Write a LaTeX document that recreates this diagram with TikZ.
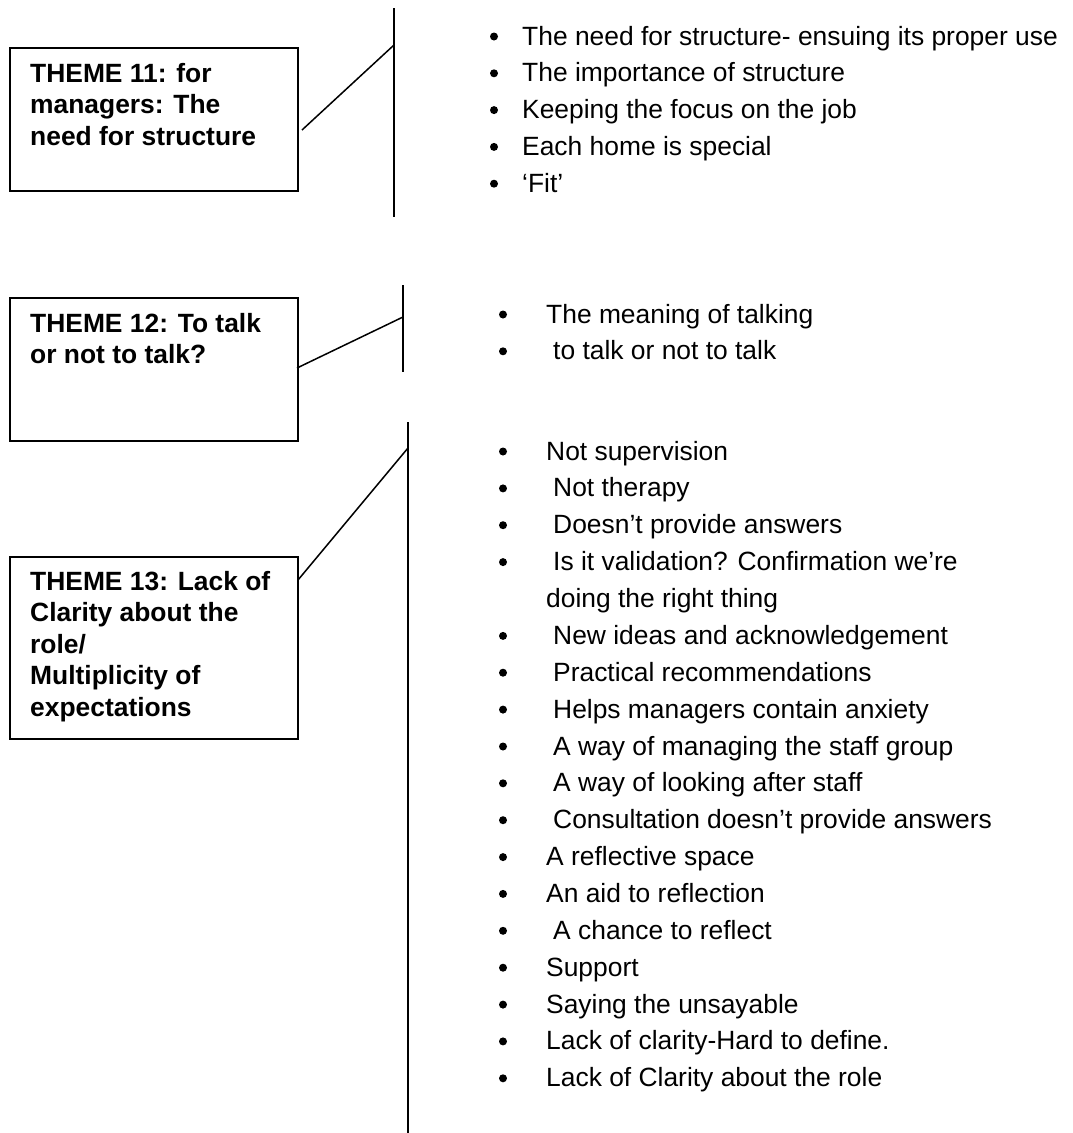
\documentclass[tikz,border=0pt]{standalone}
\usepackage{fontspec}
\setmainfont{Liberation Sans}
\begin{document}
\begin{tikzpicture}[x=1pt,y=-1pt,
  themebox/.style={draw, line width=1.5pt, minimum width=288pt, anchor=north west, inner sep=0pt},
  themetext/.style={anchor=base west, inner sep=0pt, font=\fontsize{26.4}{30.5}\selectfont\bfseries},
  item/.style={anchor=base west, inner sep=0pt, font=\fontsize{26.4}{30.5}\selectfont},
  dot/.style={circle, fill, inner sep=0pt, minimum size=8pt},
  rule/.style={line width=1.5pt}]
\useasboundingbox (0,0) rectangle (1072,1133);

% ---------- Theme 11 ----------
\node[themebox, minimum height=143pt] (box1) at (9,47) {};
\node[themetext] (t11a) at (30,82) {THEME 11: for};
\node[themetext] (t11b) at (30,113.5) {managers: The};
\node[themetext] (t11c) at (30,145) {need for structure};
\coordinate (v1top) at (394,8);
\coordinate (v1bot) at (394,217);
\coordinate (c1from) at (302,130);
\coordinate (c1to) at (394,45);
\draw[rule] (v1top) -- (v1bot);
\draw[rule] (c1from) -- (c1to);

\node[dot] (d11a) at (494,36.5) {};
\node[dot] (d11b) at (494,73.3) {};
\node[dot] (d11c) at (494,110.1) {};
\node[dot] (d11d) at (494,146.9) {};
\node[dot] (d11e) at (494,183.7) {};
\node[item] (i11a) at (522,45) {The need for structure- ensuing its proper use};
\node[item] (i11b) at (522,81.8) {The importance of structure};
\node[item] (i11c) at (522,118.6) {Keeping the focus on the job};
\node[item] (i11d) at (522,155.4) {Each home is special};
\node[item] (i11e) at (522,192.2) {‘Fit’};

% ---------- Theme 12 ----------
\node[themebox, minimum height=143pt] (box2) at (9,297) {};
\node[themetext] (t12a) at (30,332) {THEME 12: To talk};
\node[themetext] (t12b) at (30,363) {or not to talk?};
\coordinate (v2top) at (403,285);
\coordinate (v2bot) at (403,372);
\coordinate (c2from) at (297,368);
\coordinate (c2to) at (403,317);
\draw[rule] (v2top) -- (v2bot);
\draw[rule] (c2from) -- (c2to);

\node[dot] (d12a) at (503,314.5) {};
\node[dot] (d12b) at (503,351.3) {};
\node[item] (i12a) at (546,323) {The meaning of talking};
\node[item] (i12b) at (553,359.8) {to talk or not to talk};

% ---------- Theme 13 ----------
\node[themebox, minimum height=182pt] (box3) at (9,556) {};
\node[themetext] (t13a) at (30,590) {THEME 13: Lack of};
\node[themetext] (t13b) at (30,621.5) {Clarity about the};
\node[themetext] (t13c) at (30,653) {role/};
\node[themetext] (t13d) at (30,684.5) {Multiplicity of};
\node[themetext] (t13e) at (30,716) {expectations};
\coordinate (v3top) at (408,422);
\coordinate (v3bot) at (408,1133);
\coordinate (c3from) at (298,580);
\coordinate (c3to) at (408,448);
\draw[rule] (v3top) -- (v3bot);
\draw[rule] (c3from) -- (c3to);

\node[dot] (d13a) at (503,451.5) {};
\node[dot] (d13b) at (503,488.4) {};
\node[dot] (d13c) at (503,525.2) {};
\node[dot] (d13d) at (503,562.1) {};
\node[dot] (d13e) at (503,635.9) {};
\node[dot] (d13f) at (503,672.7) {};
\node[dot] (d13g) at (503,709.6) {};
\node[dot] (d13h) at (503,746.5) {};
\node[dot] (d13i) at (503,783.3) {};
\node[dot] (d13j) at (503,820.2) {};
\node[dot] (d13k) at (503,857.1) {};
\node[dot] (d13l) at (503,893.9) {};
\node[dot] (d13m) at (503,930.8) {};
\node[dot] (d13n) at (503,967.7) {};
\node[dot] (d13o) at (503,1004.6) {};
\node[dot] (d13p) at (503,1041.4) {};
\node[dot] (d13q) at (503,1078.3) {};

\node[item] (i13a) at (546,460.0) {Not supervision};
\node[item] (i13b) at (553,496.9) {Not therapy};
\node[item] (i13c) at (553,533.7) {Doesn’t provide answers};
\node[item] (i13d) at (553,570.6) {Is it validation? Confirmation we’re};
\node[item] (i13d2) at (546,607.5) {doing the right thing};
\node[item] (i13e) at (553,644.4) {New ideas and acknowledgement};
\node[item] (i13f) at (553,681.2) {Practical recommendations};
\node[item] (i13g) at (553,718.1) {Helps managers contain anxiety};
\node[item] (i13h) at (553,755.0) {A way of managing the staff group};
\node[item] (i13i) at (553,791.8) {A way of looking after staff};
\node[item] (i13j) at (553,828.7) {Consultation doesn’t provide answers};
\node[item] (i13k) at (546,865.6) {A reflective space};
\node[item] (i13l) at (546,902.4) {An aid to reflection};
\node[item] (i13m) at (553,939.3) {A chance to reflect};
\node[item] (i13n) at (546,976.2) {Support};
\node[item] (i13o) at (546,1013.1) {Saying the unsayable};
\node[item] (i13p) at (546,1049.9) {Lack of clarity-Hard to define.};
\node[item] (i13q) at (546,1086.8) {Lack of Clarity about the role};
\end{tikzpicture}
\end{document}
